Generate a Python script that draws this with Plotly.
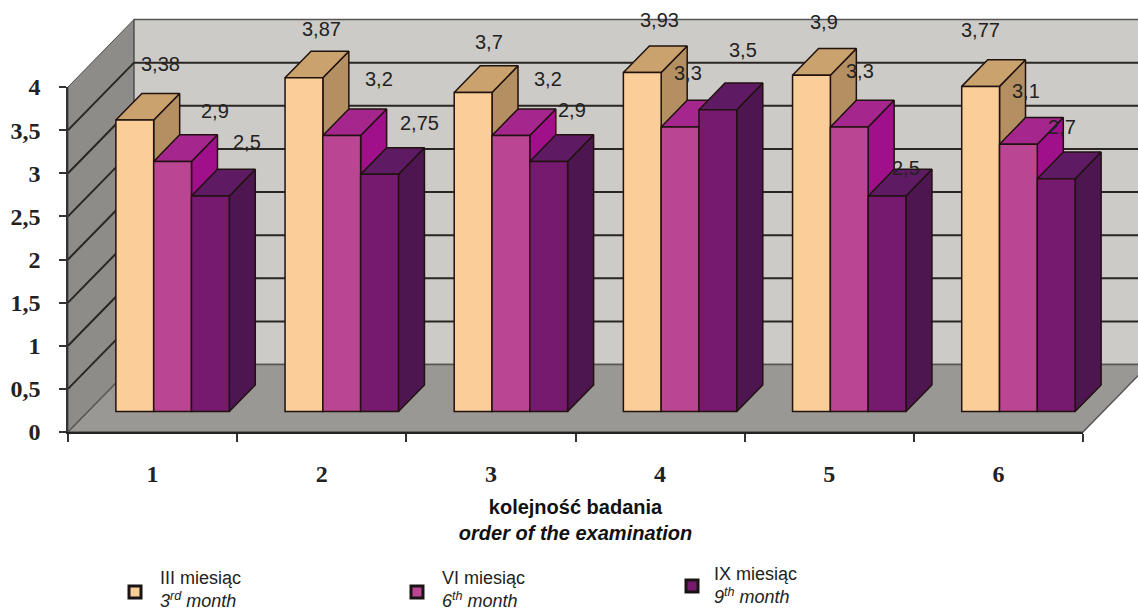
import plotly.graph_objects as go

categories = [1, 2, 3, 4, 5, 6]
series_names = ["III miesiąc", "VI miesiąc", "IX miesiąc"]
series_en = ["3<sup>rd</sup> month", "6<sup>th</sup> month", "9<sup>th</sup> month"]
month3 = [3.38, 3.87, 3.7, 3.93, 3.9, 3.77]
month6 = [2.9, 3.2, 3.2, 3.3, 3.3, 3.1]
month9 = [2.5, 2.75, 2.9, 3.5, 2.5, 2.7]
y_ticks = [0, 0.5, 1, 1.5, 2, 2.5, 3, 3.5, 4]

W, H = 1138, 610
L, R, T, B = 68, 55, 87, 178
PX_X = (W - L - R) / 6
PX_Y = (H - T - B) / 4
DX = 66 / PX_X
DY = 67.5 / PX_Y
D0 = 0.303
BAR_D = 26 / 66
BAR_W = 37.8 / PX_X

label_dx = [[26, 18, 16, 17, 13, 0], [42, 37, 37, 8, 11, 8], [37, 40, 23, 25, 19, 6]]
label_dy = [[56, 49, 50, 53, 53, 56], [50, 57, 57, 54, 56, 53], [54, 51, 51, 60, 28, 52]]

front_c = ["#FBCE99", "#B94593", "#761A6F"]
top_c = ["#C9A26D", "#A5268C", "#5E1A63"]
side_c = ["#B48F62", "#A0108A", "#4E1650"]
EDGE = "#20120f"
legend_pos = [(135, 592, 160, 589), (417, 592, 442, 589), (692, 586, 714, 585)]


def proj(x, y, d):
    return x + d * DX, y + d * DY


def poly(pts, fill, line=None, width=1.5):
    xs, ys = zip(*pts)
    return go.Scatter(x=list(xs) + [xs[0]], y=list(ys) + [ys[0]], mode="lines", fill="toself",
                      fillcolor=fill, line=dict(color=line or fill, width=width if line else 0.5),
                      hoverinfo="skip", showlegend=False)


fig = go.Figure()
# walls and floor
fig.add_trace(poly([proj(0.5, 0, 0), proj(0.5, 4, 0), proj(0.5, 4, 1), proj(0.5, 0, 1)], "#8E8C88", "#4a4a48", 1))
fig.add_trace(poly([proj(0.5, 0, 1), proj(0.5, 4, 1), proj(6.5, 4, 1), proj(6.5, 0, 1)], "#CDCBC8", "#555555", 1.5))
gx, gy = [], []
for v in y_ticks[1:-1]:
    for d in (0, 1):
        p = proj(0.5, v, d)
        gx.append(p[0]); gy.append(p[1])
    p = proj(6.5, v, 1)
    gx.append(p[0]); gy.append(p[1])
    gx.append(None); gy.append(None)
fig.add_trace(go.Scatter(x=gx, y=gy, mode="lines", line=dict(color="#2a2622", width=2),
                         hoverinfo="skip", showlegend=False))
fig.add_trace(poly([proj(0.5, 0, 0), proj(6.5, 0, 0), proj(6.5, 0, 1), proj(0.5, 0, 1)], "#9A9895", "#555553", 1.5))

# sides and tops
all_series = [month3, month6, month9]
base = D0 * DY
for c, cat in enumerate(categories):
    for s, vals in enumerate(all_series):
        v = vals[c]
        x0 = cat + (s - 1.5) * BAR_W + D0 * DX
        x1 = x0 + BAR_W
        y1 = base + v
        fig.add_trace(poly([(x1, base), (x1, y1), (x1 + BAR_D * DX, y1 + BAR_D * DY),
                            (x1 + BAR_D * DX, base + BAR_D * DY)], side_c[s], EDGE))
        fig.add_trace(poly([(x0, y1), (x1, y1), (x1 + BAR_D * DX, y1 + BAR_D * DY),
                            (x0 + BAR_D * DX, y1 + BAR_D * DY)], top_c[s], EDGE))

# front faces, on an overlaid subplot so they cover the sides
for s, vals in enumerate(all_series):
    fig.add_trace(go.Bar(x=[c + (s - 1) * BAR_W + D0 * DX for c in categories], y=vals, base=base,
                         width=BAR_W, marker=dict(color=front_c[s], line=dict(color=EDGE, width=1.5)),
                         name=series_names[s], hoverinfo="skip",
                         xaxis="x2", yaxis="y2", showlegend=False))

# carrier of the visible axes
fig.add_trace(go.Scatter(x=[1], y=[0], mode="markers", marker=dict(opacity=0), hoverinfo="skip",
                         xaxis="x3", yaxis="y3", showlegend=False))

# value labels
annots = []
for s, vals in enumerate(all_series):
    for c, cat in enumerate(categories):
        annots.append(dict(x=cat + (s - 1) * BAR_W + D0 * DX, y=base + vals[c], xref="x2", yref="y2",
                           text=str(vals[c]).replace(".", ","), showarrow=False,
                           xshift=label_dx[s][c], yshift=label_dy[s][c], xanchor="center", yanchor="middle",
                           font=dict(family="Liberation Sans", size=20, color="#222222")))

# legend
shapes = []
for s, (mx, my, tx, ty) in enumerate(legend_pos):
    shapes.append(dict(type="rect", xref="paper", yref="paper",
                       x0=(mx - 6) / W, x1=(mx + 6) / W, y0=(H - my - 6) / H, y1=(H - my + 6) / H,
                       fillcolor=front_c[s], line=dict(color="#1a1414", width=3)))
    annots.append(dict(xref="paper", yref="paper", x=tx / W, y=(H - ty) / H, xshift=-2,
                       text=series_names[s] + "<br><i>" + series_en[s] + "</i>", showarrow=False,
                       xanchor="left", yanchor="middle", align="left",
                       font=dict(family="Liberation Sans", size=18, color="#222222")))

tick_font = dict(family="Liberation Serif", size=24, color="#222222", weight="bold")
x_full = [0.5 - L / PX_X, 0.5 + (W - L) / PX_X]
y_full = [-B / PX_Y, (H - B) / PX_Y]
fig.update_layout(
    width=W, height=H, margin=dict(l=0, r=0, t=0, b=0, autoexpand=False),
    paper_bgcolor="white", plot_bgcolor="rgba(0,0,0,0)", showlegend=False,
    barmode="overlay", annotations=annots, shapes=shapes,
    xaxis=dict(range=x_full, domain=[0, 1], visible=False),
    yaxis=dict(range=y_full, domain=[0, 1], visible=False),
    xaxis2=dict(range=x_full, overlaying="x", visible=False),
    yaxis2=dict(range=y_full, overlaying="y", visible=False),
    xaxis3=dict(anchor="y3", domain=[L / W, (W - R) / W],
                range=[0.5, 6.5], tickmode="array", tickvals=categories, ticktext=[str(c) for c in categories],
                ticks="", showgrid=False, zeroline=False, showline=True, linecolor="#222222", linewidth=2,
                tickfont=tick_font, ticklabelstandoff=19,
                minor=dict(tickmode="array", tickvals=[0.5, 1.5, 2.5, 3.5, 4.5, 5.5, 6.5], ticks="outside",
                           ticklen=8, tickwidth=1.5, tickcolor="#333333", showgrid=False),
                title=dict(text="<b>kolejność badania</b><br><b><i>order of the examination</i></b>",
                           font=dict(family="Liberation Sans", size=20, color="#111111"), standoff=14)),
    yaxis3=dict(anchor="x3", domain=[B / H, (H - T) / H],
                range=[0, 4], tickmode="array", tickvals=y_ticks,
                ticktext=[str(v).replace(".", ",") for v in y_ticks], ticks="outside", ticklen=7,
                tickwidth=1.5, tickcolor="#333333", showgrid=False, zeroline=False, showline=True,
                linecolor="#333333", linewidth=1.5, tickfont=tick_font, ticklabelstandoff=14),
)
fig.write_html("out.html", config=dict(displayModeBar=False),
               post_script="document.body.style.margin='0';")
